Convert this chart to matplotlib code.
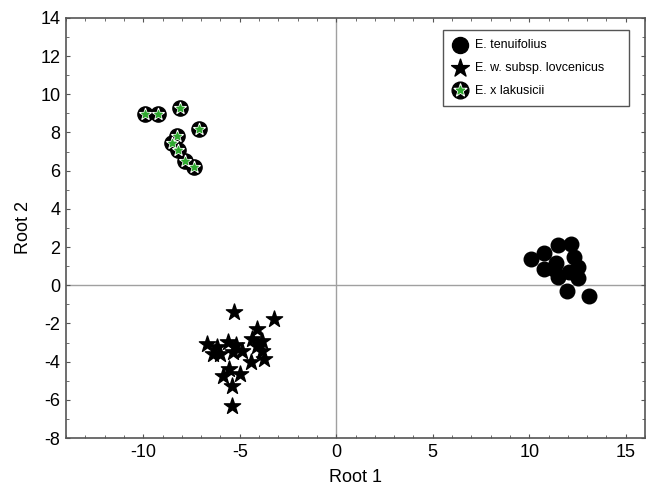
import matplotlib
matplotlib.use("Agg")
import matplotlib.pyplot as plt
from matplotlib.ticker import MultipleLocator
from matplotlib.legend_handler import HandlerTuple

plt.rcParams['font.family'] = ['Liberation Sans', 'DejaVu Sans']
plt.rcParams['axes.unicode_minus'] = False

# E. tenuifolius
ten_x = [10.1, 10.75, 11.5, 12.15, 10.75, 11.4, 12.3, 12.55, 11.5, 12.05, 12.55, 11.95, 13.1, 11.3]
ten_y = [1.36, 1.68, 2.09, 2.15, 0.84, 1.15, 1.47, 0.94, 0.42, 0.68, 0.37, -0.31, -0.58, 0.84]

# E. w. subsp. lovcenicus
lov_x = [-5.32, -3.2, -4.13, -6.71, -5.63, -5.17, -4.34, -3.87, -6.4, -6.04, -5.37,
         -4.86, -4.13, -3.82, -4.39, -3.72, -5.53, -5.01, -5.89, -5.42, -5.42, -6.2]
lov_y = [-1.41, -1.78, -2.30, -3.09, -2.98, -3.14, -2.83, -2.93, -3.61, -3.61, -3.51,
         -3.46, -3.19, -3.46, -4.03, -3.87, -4.40, -4.66, -4.76, -5.29, -6.34, -3.25]

# E. x lakusicii
lak_x = [-9.9, -9.25, -8.1, -7.1, -8.25, -8.5, -8.2, -7.85, -7.35]
lak_y = [8.95, 8.95, 9.3, 8.2, 7.8, 7.45, 7.1, 6.5, 6.2]

labels = ['E. tenuifolius', 'E. w. subsp. lovcenicus', 'E. x lakusicii']

fig = plt.figure(figsize=(6.47, 4.95), dpi=100)
ax = fig.add_axes([0.102, 0.115, 0.895, 0.849])

ax.axhline(0, color='#a0a0a0', lw=1, zorder=0)
ax.axvline(0, color='#a0a0a0', lw=1, zorder=0)

h1 = ax.scatter(ten_x, ten_y, s=110, marker='o', color='black', zorder=3)
h2 = ax.scatter(lov_x, lov_y, s=150, marker='*', color='black', zorder=3)
h3a = ax.scatter(lak_x, lak_y, s=120, marker='o', color='black', zorder=3)
h3b = ax.scatter(lak_x, lak_y, s=75, marker='*', color='white', zorder=4)
h3c = ax.scatter(lak_x, lak_y, s=30, marker='*', color='#2fa82f', zorder=5)

ax.set_xlim(-14, 16)
ax.set_ylim(-8, 14)
ax.xaxis.set_major_locator(MultipleLocator(5))
ax.xaxis.set_minor_locator(MultipleLocator(1))
ax.yaxis.set_major_locator(MultipleLocator(2))
ax.yaxis.set_minor_locator(MultipleLocator(1))
ax.tick_params(which='both', direction='in', top=True, right=True, colors='#555555',
               labelcolor='black', labelsize=13)
ax.tick_params(which='major', length=3, pad=4)
ax.tick_params(which='minor', length=2)
for sp in ax.spines.values():
    sp.set_color('#555555')
    sp.set_linewidth(1.2)

ax.set_xlabel('Root 1', fontsize=13, labelpad=6)
ax.set_ylabel('Root 2', fontsize=13, labelpad=6)

leg = ax.legend([h1, h2, (h3a, h3b, h3c)], labels,
                handler_map={tuple: HandlerTuple(ndivide=1)},
                loc='upper left', bbox_to_anchor=(0.651, 0.793, 0.321, 0.178),
                mode='expand', borderaxespad=0, fontsize=9,
                fancybox=False, framealpha=1, edgecolor='#555555',
                handletextpad=0.5, borderpad=0.75, labelspacing=0.85, handlelength=1.3,
                markerscale=1.1)
leg.get_frame().set_linewidth(1.0)

fig.savefig('out.png', dpi=100)
